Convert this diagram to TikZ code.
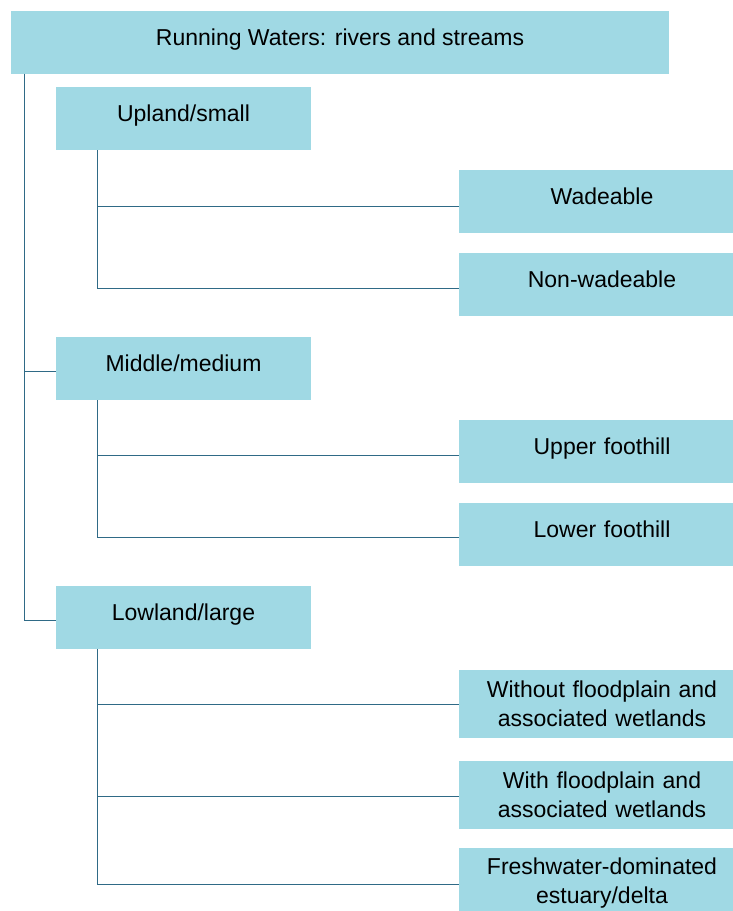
\documentclass[tikz,border=0pt]{standalone}
\usepackage{fontspec}
\setmainfont{Liberation Sans}
\usetikzlibrary{positioning}

\definecolor{boxblue}{HTML}{A0D9E4}
\definecolor{linkteal}{HTML}{2F6A86}

\tikzset{
  catbox/.style={fill=boxblue, inner sep=0pt, align=center,
    minimum height=63pt, text height=16pt, text depth=10pt,
    font=\fontsize{23}{29}\selectfont},
  topbox/.style={catbox, minimum width=658pt},
  midbox/.style={catbox, minimum width=255pt},
  leafbox/.style={catbox, minimum width=286pt, text width=280pt},
  twoline/.style={minimum height=68pt, text height=, text depth=},
  link/.style={draw=linkteal, line width=1pt}
}

\begin{document}
\begin{tikzpicture}[x=1pt,y=-1pt]
\useasboundingbox (0,0) rectangle (733,911);

% main box
\node[topbox] (root) at (340,42) {Running Waters: rivers and streams};

% second level
\node[midbox] (upland) at (183.5,118.5) {Upland/small};
\node[midbox] (middle) at (183.5,368.5) {Middle/medium};
\node[midbox] (lowland) at (183.5,617.5) {Lowland/large};

% leaves
\node[leafbox] (wade) at (602,201.5) {Wadeable};
\node[leafbox] (nonwade) at (602,284.5) {Non-wadeable};
\node[leafbox] (upperfh) at (602,451.5) {Upper foothill};
\node[leafbox] (lowerfh) at (602,534.5) {Lower foothill};
\node[leafbox,twoline] (nofloodp) at (602,704) {Without floodplain and\\associated wetlands};
\node[leafbox,twoline] (floodp) at (602,794.5) {With floodplain and\\associated wetlands};
\node[leafbox,twoline,minimum height=71pt] (estuary) at (602,883.5) {Freshwater-dominated\\estuary/delta};

% trunk
\draw[link] ([xshift=14pt]root.south west) |- ([yshift=-3pt]lowland.west);
\draw[link] (25,371) -- ([yshift=-2.5pt]middle.west);

% branches
\draw[link] ([xshift=42pt]upland.south west) |- ([yshift=-3.5pt]nonwade.west);
\draw[link] (98,206) -- ([yshift=-4.5pt]wade.west);
\draw[link] ([xshift=42pt]middle.south west) |- ([yshift=-2.5pt]lowerfh.west);
\draw[link] (98,455) -- ([yshift=-3.5pt]upperfh.west);
\draw[link] ([xshift=42pt]lowland.south west) |- ([yshift=-0.5pt]estuary.west);
\draw[link] (98,704) -- (nofloodp.west);
\draw[link] (98,796) -- ([yshift=-1.5pt]floodp.west);
\end{tikzpicture}
\end{document}
